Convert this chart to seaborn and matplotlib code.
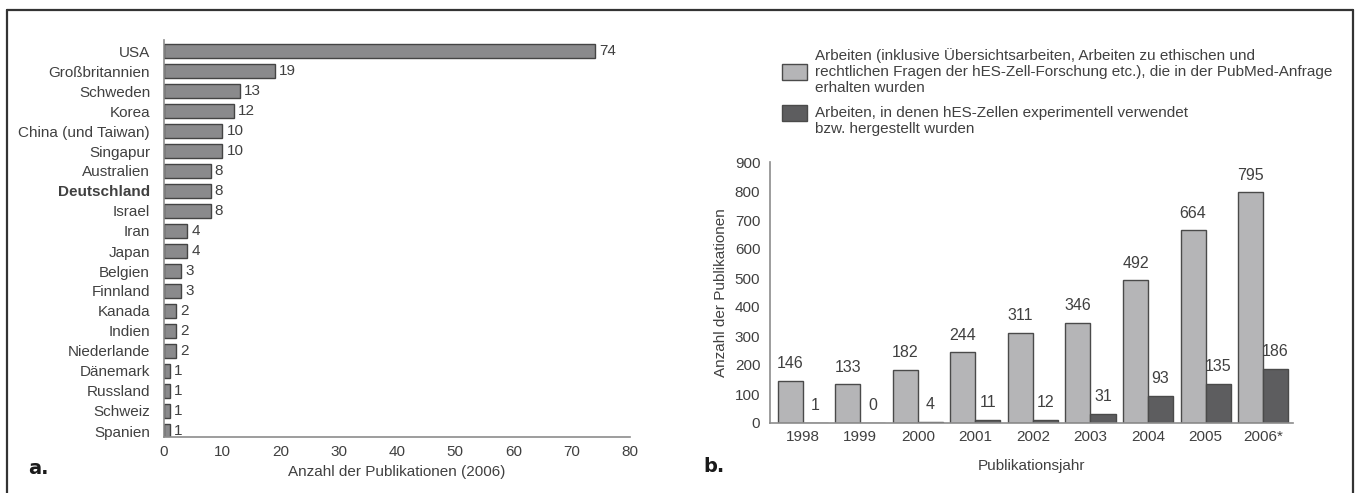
import matplotlib
matplotlib.use("Agg")
import matplotlib.pyplot as plt
from matplotlib.lines import Line2D
import pandas as pd
import seaborn as sns

# Daten Teil a: Publikationen 2006 nach Land
laender = ["USA", "Großbritannien", "Schweden", "Korea", "China (und Taiwan)",
           "Singapur", "Australien", "Deutschland", "Israel", "Iran", "Japan",
           "Belgien", "Finnland", "Kanada", "Indien", "Niederlande", "Dänemark",
           "Russland", "Schweiz", "Spanien"]
anzahl_2006 = [74, 19, 13, 12, 10, 10, 8, 8, 8, 4, 4, 3, 3, 2, 2, 2, 1, 1, 1, 1]

# Daten Teil b: Publikationen pro Jahr
jahre = ["1998", "1999", "2000", "2001", "2002", "2003", "2004", "2005", "2006*"]
pubmed_gesamt = [146, 133, 182, 244, 311, 346, 492, 664, 795]
experimentell = [1, 0, 4, 11, 12, 31, 93, 135, 186]
serien = ["Arbeiten (inklusive Übersichtsarbeiten, Arbeiten zu ethischen und\n"
          "rechtlichen Fragen der hES-Zell-Forschung etc.), die in der PubMed-Anfrage\n"
          "erhalten wurden",
          "Arbeiten, in denen hES-Zellen experimentell verwendet\n"
          "bzw. hergestellt wurden"]

TEXT = "#404040"
ACHSE = "#8c8c8c"
FS = 11

sns.set_theme(style="white")
plt.rcParams["font.family"] = ["Liberation Sans", "DejaVu Sans"]
plt.rcParams["text.color"] = TEXT
plt.rcParams["axes.labelcolor"] = TEXT
plt.rcParams["xtick.color"] = TEXT
plt.rcParams["ytick.color"] = TEXT

W, H = 1359, 493
fig = plt.figure(figsize=(W / 100, H / 100), dpi=100)

# --- a. ---
ax1 = fig.add_axes([164 / W, 1 - 437 / H, (630 - 164) / W, (437 - 40) / H])
df_a = pd.DataFrame({"Land": laender, "Anzahl": anzahl_2006})
sns.barplot(data=df_a, x="Anzahl", y="Land", orient="h", color="#8a8a8c",
            edgecolor="#444444", linewidth=1.0, width=0.7, ax=ax1)
ax1.bar_label(ax1.containers[0], padding=3, fontsize=FS, color=TEXT)
ax1.set_xlim(0, 80)
ax1.set_ylim(19.3, -0.55)
ax1.set_xticks(range(0, 81, 10))
ax1.set_xlabel("Anzahl der Publikationen (2006)", fontsize=FS, labelpad=4)
ax1.set_ylabel("")
ax1.tick_params(axis="x", length=4, width=1, color=ACHSE, labelsize=FS, pad=2)
ax1.tick_params(axis="y", length=0, labelsize=FS, pad=10)
for t in ax1.get_yticklabels():
    if t.get_text() == "Deutschland":
        t.set_fontweight("bold")
for s in ["top", "right"]:
    ax1.spines[s].set_visible(False)
for s in ["left", "bottom"]:
    ax1.spines[s].set_color(ACHSE)
    ax1.spines[s].set_linewidth(1.2)

# --- b. ---
ax2 = fig.add_axes([770 / W, 1 - 423 / H, (1293 - 770) / W, (423 - 162) / H])
df_b = pd.DataFrame({
    "Jahr": jahre * 2,
    "Serie": [serien[0]] * len(jahre) + [serien[1]] * len(jahre),
    "Anzahl": pubmed_gesamt + experimentell,
})
sns.barplot(data=df_b, x="Jahr", y="Anzahl", hue="Serie",
            palette=["#b5b5b7", "#5d5d5f"], edgecolor="#4a4a4a", linewidth=1.0,
            width=0.87, ax=ax2)
for cont in ax2.containers:
    ax2.bar_label(cont, padding=7, fontsize=FS + 0.5, color=TEXT)
ax2.set_ylim(0, 900)
ax2.set_xlim(-0.57, 8.52)
ax2.set_yticks(range(0, 901, 100))
ax2.set_xlabel("Publikationsjahr", fontsize=FS, labelpad=11)
ax2.set_ylabel("Anzahl der Publikationen", fontsize=FS, labelpad=5)
ax2.tick_params(axis="y", length=4, width=1, color=ACHSE, labelsize=FS, pad=3)
ax2.tick_params(axis="x", length=0, labelsize=FS, pad=5)
for s in ["top", "right"]:
    ax2.spines[s].set_visible(False)
for s in ["left", "bottom"]:
    ax2.spines[s].set_color(ACHSE)
    ax2.spines[s].set_linewidth(1.2)

handles, labels = ax2.get_legend_handles_labels()
ax2.get_legend().remove()
leg = fig.legend(handles, labels, loc="upper left",
                 bbox_to_anchor=(776 / W, 1 - 42 / H),
                 frameon=False, fontsize=FS, handlelength=1.6, handleheight=1.2,
                 handletextpad=0.55, labelspacing=0.7, borderaxespad=0)
# zweites Kästchen auf Höhe der ersten Textzeile
p2 = leg.get_patches()[1]
p2.set_y(p2.get_y() + 6)

# Panel-Bezeichnungen
fig.text(28 / W, 1 - 468 / H, "a.", fontsize=14, fontweight="heavy",
         color="#1a1a1a", va="center", family="DejaVu Sans")
fig.text(703 / W, 1 - 466 / H, "b.", fontsize=14, fontweight="heavy",
         color="#1a1a1a", va="center", family="DejaVu Sans")

# Rahmen (oben, links, rechts)
rahmen = dict(color="#333333", linewidth=1.6, transform=fig.transFigure)
fig.add_artist(Line2D([7 / W, 1353 / W], [1 - 10 / H, 1 - 10 / H], **rahmen))
fig.add_artist(Line2D([7 / W, 7 / W], [0, 1 - 10 / H], **rahmen))
fig.add_artist(Line2D([1353 / W, 1353 / W], [0, 1 - 10 / H], **rahmen))

fig.savefig("out.png", dpi=100)
